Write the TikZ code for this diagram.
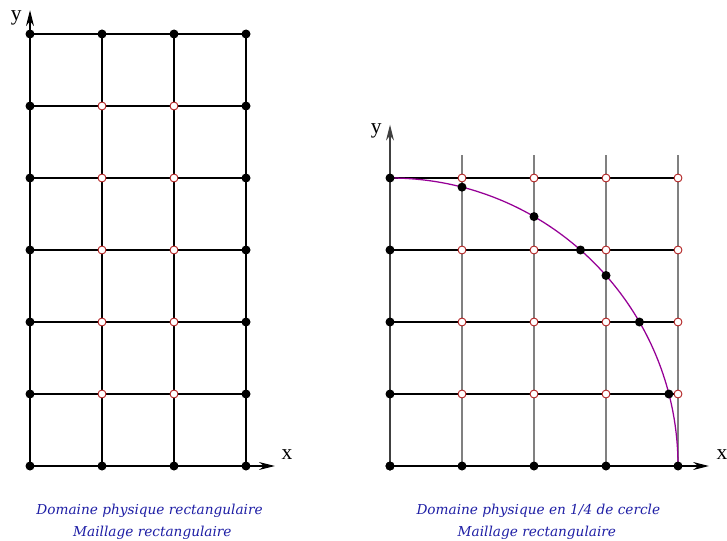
\documentclass[tikz,border=0pt]{standalone}
\usepackage{fontspec}
\setmainfont{Liberation Serif}
\newfontfamily\legendfont{DejaVu Serif}
\usepackage{xcolor}
\usetikzlibrary{arrows.meta,calc}

\definecolor{arcpurple}{RGB}{150,0,150}
\definecolor{ptred}{RGB}{175,25,25}
\definecolor{capblue}{RGB}{30,30,165}

\begin{document}
\begin{tikzpicture}[
  font=\fontsize{8.5}{10}\selectfont,
  grid/.style={line width=0.45pt},
  fixed/.style={circle,fill=black,inner sep=0pt,minimum size=1.25mm},
  free/.style={circle,draw=ptred,fill=white,line width=0.35pt,inner sep=0pt,minimum size=1.1mm},
  axis/.style={line width=0.45pt,-{Stealth[length=2.2mm,width=1.1mm]}},
  legend/.style={text=capblue,font=\legendfont\itshape\fontsize{5.4}{7}\selectfont}]
  \useasboundingbox (-0.4167,-1.0278) rectangle (9.6806,6.4722);

  % ---------- left: rectangular domain, 3 x 6 cells ----------
  \foreach \i in {0,...,3}
    \foreach \j in {0,...,6}
      \coordinate (L\i\j) at (\i,\j);
  \coordinate (Ltop) at (0,6.33);
  \coordinate (Lend) at (3.40,0);

  \foreach \i in {1,2,3} \draw[grid] (L\i0) -- (L\i6);
  \foreach \j in {1,...,6} \draw[grid] (L0\j) -- (L3\j);
  \draw[axis] (L00) -- (Ltop);
  \draw[axis] (L00) -- (Lend);
  \node (Ly) at (-0.19,6.22) {y};
  \node (Lx) at (3.57,0.16) {x};

  % interior points (open) and boundary points (filled)
  \foreach \i in {1,2}
    \foreach \j in {1,...,5}
      \node[free] (Lp\i\j) at (L\i\j) {};
  \foreach \j in {0,...,6} {
    \node[fixed] (Lb0\j) at (L0\j) {};
    \node[fixed] (Lb3\j) at (L3\j) {};
  }
  \foreach \i in {1,2} {
    \node[fixed] (Lb\i0) at (L\i0) {};
    \node[fixed] (Lb\i6) at (L\i6) {};
  }

  \node[legend] (capL1) at (1.66,-0.625) {Domaine physique rectangulaire};
  \node[legend] (capL2) at (1.70,-0.93) {Maillage rectangulaire};

  % ---------- right: quarter circle in a 4 x 4 mesh ----------
  \begin{scope}[shift={(5,0)}]
    \foreach \i in {0,...,4}
      \foreach \j in {0,...,4}
        \coordinate (R\i\j) at (\i,\j);
    \coordinate (Rtop) at (0,4.74);
    \coordinate (Rend) at (4.43,0);

    \foreach \i in {1,...,4} \draw[grid,gray] (R\i0) -- ++(0,4.32);
    \foreach \j in {1,...,4} \draw[grid] (R0\j) -- (R4\j);
    \draw[axis,black!75] (R00) -- (Rtop);
    \draw[axis] (R00) -- (Rend);
    \node (Ry) at (-0.19,4.66) {y};
    \node (Rx) at (4.61,0.16) {x};

    % boundary of the domain
    \draw[arcpurple,line width=0.5pt] (R04) arc[start angle=90,end angle=0,radius=4];

    \foreach \i in {1,...,4}
      \foreach \j in {1,...,4}
        \node[free] (Rp\i\j) at (R\i\j) {};
    \foreach \k in {0,...,4} {
      \node[fixed] (Rb\k0) at (R\k0) {};
      \node[fixed] (Rb0\k) at (R0\k) {};
    }
    % mesh lines crossing the circle
    \foreach \k in {1,2,3} {
      \pgfmathsetmacro{\h}{sqrt(16-\k*\k)}
      \node[fixed] (Cv\k) at (\k,\h) {};
      \node[fixed] (Ch\k) at (\h,\k) {};
    }

    \node[legend] (capR1) at (2.06,-0.625) {Domaine physique en 1/4 de cercle};
    \node[legend] (capR2) at (2.04,-0.93) {Maillage rectangulaire};
  \end{scope}
\end{tikzpicture}
\end{document}
